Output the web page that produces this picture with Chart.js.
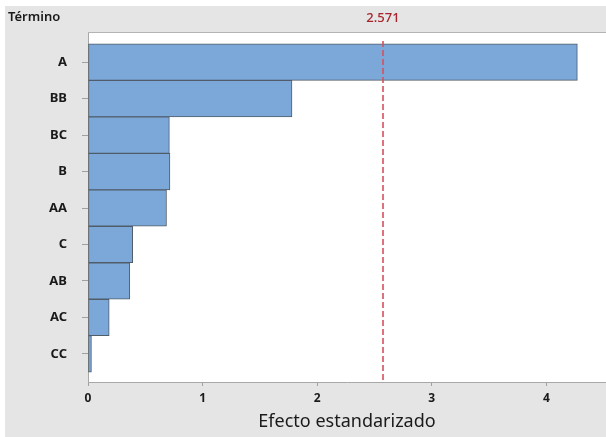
<!DOCTYPE html>
<html>
<head>
<meta charset="utf-8">
<script src="https://cdn.jsdelivr.net/npm/chart.js@4"></script>
<style>
  html, body { margin: 0; padding: 0; background: #ffffff; }
  #wrap { position: absolute; left: 5px; top: 6px; width: 601px; height: 431px; background: #E5E5E5; }
  canvas { display: block; }
</style>
</head>
<body>
<div id="wrap"><canvas id="c" width="601" height="431"></canvas></div>
<script>
const terms = ["A", "BB", "BC", "B", "AA", "C", "AB", "AC", "CC"];
const effects = [4.27, 1.78, 0.71, 0.715, 0.685, 0.39, 0.365, 0.185, 0.03];
const xTicks = [0, 1, 2, 3, 4];
const refValue = 2.571;
const refLabel = "2.571";
const yTitle = "Término";
const xTitle = "Efecto estandarizado";

const FONT = "'Noto Sans', 'Open Sans', sans-serif";

const plotPlugin = {
  id: 'plotDecor',
  beforeDraw(chart) {
    const {ctx, chartArea: a} = chart;
    ctx.save();
    ctx.fillStyle = '#ffffff';
    ctx.fillRect(a.left, a.top, a.right - a.left, a.bottom - a.top);
    ctx.restore();
  },
  afterDatasetsDraw(chart) {
    const {ctx, chartArea: a, scales} = chart;
    const x = Math.round(scales.x.getPixelForValue(refValue));
    ctx.save();
    ctx.strokeStyle = '#D4525C';
    ctx.lineWidth = 1.6;
    ctx.setLineDash([6, 3]);
    ctx.beginPath();
    ctx.moveTo(x, a.top + 8);
    ctx.lineTo(x, a.bottom);
    ctx.stroke();
    ctx.setLineDash([]);
    ctx.fillStyle = '#A8232B';
    ctx.font = "500 13px " + FONT;
    ctx.textAlign = 'center';
    ctx.textBaseline = 'middle';
    ctx.fillText(refLabel, x, a.top - 15);
    // top border of plot
    ctx.strokeStyle = '#B4B4B4';
    ctx.lineWidth = 1;
    ctx.beginPath();
    ctx.moveTo(a.left, a.top - 0.5);
    ctx.lineTo(a.right, a.top - 0.5);
    ctx.stroke();
    // title
    ctx.fillStyle = '#1a1a1a';
    ctx.font = "600 13px " + FONT;
    ctx.textAlign = 'left';
    ctx.fillText(yTitle, 3, 11);
    ctx.restore();
  }
};

new Chart(document.getElementById('c'), {
  type: 'bar',
  data: {
    datasets: [{
      data: terms.map((t, i) => ({x: effects[i], y: i})),
      backgroundColor: '#7BA7D9',
      borderColor: '#505C68',
      borderWidth: 1,
      borderSkipped: false,
      barPercentage: 1,
      categoryPercentage: 1
    }]
  },
  options: {
    indexAxis: 'y',
    responsive: false,
    animation: false,
    layout: { padding: { top: 27, right: 0, left: 0, bottom: 0 } },
    plugins: { legend: { display: false }, tooltip: { enabled: false } },
    scales: {
      x: {
        type: 'linear',
        min: 0,
        max: 4.52,
        afterBuildTicks: s => { s.ticks = xTicks.map(v => ({value: v})); },
        afterFit: s => { s.height = 55; },
        grid: { drawOnChartArea: false, drawTicks: true, tickLength: 4, tickColor: '#A0A0A0' },
        border: { display: true, color: '#A8A8A8' },
        ticks: { color: '#1a1a1a', font: { family: FONT, size: 12, weight: 'bold' }, padding: 5, maxRotation: 0 },
        title: { display: true, text: xTitle, color: '#1a1a1a', font: { family: FONT, size: 18 }, padding: { top: 0, bottom: 4 } }
      },
      y: {
        type: 'linear',
        reverse: true,
        offset: false,
        min: -0.8,
        max: 8.77,
        afterBuildTicks: s => { s.ticks = terms.map((t, i) => ({value: i})); },
        afterFit: s => { s.width = 83; },
        grid: { offset: false, drawOnChartArea: false, drawTicks: true, tickLength: 6, tickColor: '#A0A0A0' },
        border: { display: true, color: '#A8A8A8' },
        ticks: { color: '#1a1a1a', font: { family: FONT, size: 13, weight: 'bold' }, padding: 15,
          callback: v => terms[v] }
      }
    }
  },
  plugins: [plotPlugin]
});
</script>
</body>
</html>
